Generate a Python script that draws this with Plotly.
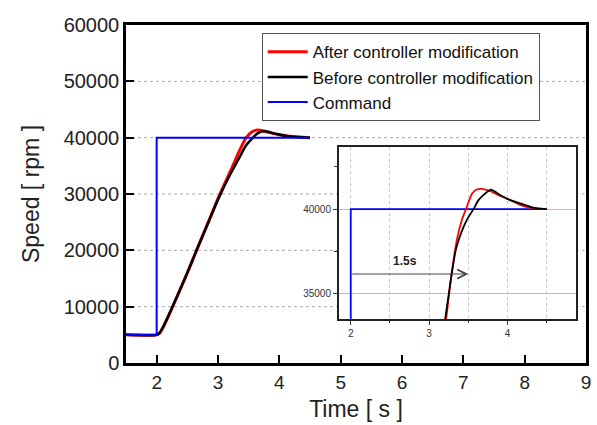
import plotly.graph_objects as go

# ---------------- data ----------------
# main plot
cmd_t = [1.5, 2.0, 2.0, 4.5]
cmd_v = [5000, 5000, 40000, 40000]

after_t = [1.5, 2.0, 2.05, 2.1, 2.2, 2.3, 2.5, 2.65, 2.86, 3.0, 3.2, 3.35, 3.46, 3.55, 3.65, 3.8, 4.0, 4.2, 4.5]
after_v = [5000, 5000, 5300, 6200, 8500, 11000, 16000, 20000, 25500, 29200, 34000, 37700, 40000, 41000, 41350, 41000, 40500, 40200, 40000]

before_t = [1.5, 2.0, 2.05, 2.1, 2.2, 2.3, 2.5, 2.65, 2.86, 3.0, 3.2, 3.35, 3.45, 3.57, 3.65, 3.76, 3.9, 4.1, 4.3, 4.5]
before_v = [5000, 5000, 5400, 6300, 8600, 11000, 16000, 20000, 25400, 29000, 33500, 36500, 38500, 40000, 40800, 41200, 40800, 40350, 40100, 40000]

# inset (zoomed view)
in_cmd_t = [2.0, 2.0, 4.5]
in_cmd_v = [33000, 40000, 40000]

in_after_t = [3.217, 3.29, 3.36, 3.42, 3.47, 3.545, 3.6, 3.67, 3.79, 3.9, 4.0, 4.16, 4.3, 4.5]
in_after_v = [33460, 36300, 38300, 39400, 40000, 40900, 41150, 41200, 41050, 40800, 40600, 40250, 40080, 40000]

in_before_t = [3.204, 3.27, 3.34, 3.41, 3.48, 3.566, 3.63, 3.71, 3.79, 3.9, 4.0, 4.16, 4.3, 4.375, 4.5]
in_before_v = [33460, 35600, 37570, 38600, 39350, 40000, 40530, 40900, 41150, 40850, 40600, 40340, 40120, 40040, 40000]

legend_names = ["After controller modification", "Before controller modification", "Command"]
main_xticks = [2, 3, 4, 5, 6, 7, 8, 9]
main_yticks = [0, 10000, 20000, 30000, 40000, 50000, 60000]
main_grid_y = [10000, 20000, 30000, 40000, 50000]
inset_xticks = [2, 3, 4]
inset_yticks = [35000, 40000]
arrow_label = "1.5s"
arrow_y = 36150
arrow_x0, arrow_x1 = 2.0, 3.5

FONT = "Liberation Sans, Arial, sans-serif"
RED, BLACK, BLUE = "#ff0000", "#000000", "#0000ff"

INSET_X = [0.463, 0.9776]
INSET_Y = [0.129, 0.640]
Y_MAIN = [0, 60000]

fig = go.Figure()

# main traces
fig.add_trace(go.Scatter(x=after_t, y=after_v, mode="lines", name=legend_names[0],
                         line=dict(color=RED, width=3, shape="spline", smoothing=0.6),
                         xaxis="x", yaxis="y"))
fig.add_trace(go.Scatter(x=before_t, y=before_v, mode="lines", name=legend_names[1],
                         line=dict(color=BLACK, width=2.5, shape="spline", smoothing=0.6),
                         xaxis="x", yaxis="y"))
fig.add_trace(go.Scatter(x=cmd_t, y=cmd_v, mode="lines", name=legend_names[2],
                         line=dict(color=BLUE, width=2),
                         xaxis="x", yaxis="y"))

# inset traces
fig.add_trace(go.Scatter(x=in_cmd_t, y=in_cmd_v, mode="lines", showlegend=False,
                         line=dict(color=BLUE, width=1.8), xaxis="x2", yaxis="y2"))
fig.add_trace(go.Scatter(x=in_after_t, y=in_after_v, mode="lines", showlegend=False,
                         line=dict(color=RED, width=1.8, shape="spline", smoothing=0.6),
                         xaxis="x2", yaxis="y2"))
fig.add_trace(go.Scatter(x=in_before_t, y=in_before_v, mode="lines", showlegend=False,
                         line=dict(color=BLACK, width=1.8, shape="spline", smoothing=0.6),
                         xaxis="x2", yaxis="y2"))

# main dotted grid lines, interrupted by the inset box
for gv in main_grid_y:
    frac = (gv - Y_MAIN[0]) / (Y_MAIN[1] - Y_MAIN[0])
    if INSET_Y[0] <= frac <= INSET_Y[1]:
        segs = [(0, INSET_X[0]), (INSET_X[1], 1)]
    else:
        segs = [(0, 1)]
    for a, b in segs:
        fig.add_shape(type="line", xref="paper", yref="y", x0=a, x1=b, y0=gv, y1=gv,
                      line=dict(color="#aaaaaa", width=1, dash="dot"), layer="below")

fig.add_annotation(x=arrow_x1, y=arrow_y, ax=arrow_x0, ay=arrow_y, xref="x2", yref="y2",
                   axref="x2", ayref="y2", showarrow=True, arrowhead=5, arrowsize=1.8,
                   arrowwidth=1, arrowcolor="#444444", text="")
fig.add_annotation(x=2.69, y=36934, xref="x2", yref="y2", text="<b>" + arrow_label + "</b>",
                   showarrow=False, font=dict(family=FONT, size=12, color="#222222"))

fig.update_layout(
    width=597, height=425,
    margin=dict(l=126, r=11, t=25, b=62),
    paper_bgcolor="white", plot_bgcolor="white",
    font=dict(family=FONT, color="#222222"),
    showlegend=True,
    legend=dict(x=0.295, y=0.9755, xanchor="left", yanchor="top",
                bgcolor="white", bordercolor="#555555", borderwidth=1,
                font=dict(family=FONT, size=17, color="#111111"),
                tracegroupgap=0, itemwidth=40),
    xaxis=dict(range=[1.5, 9], tickvals=main_xticks, ticks="inside", ticklen=8, tickwidth=2,
               tickcolor="black", showline=True, linecolor="black", linewidth=2.5, mirror=True,
               showgrid=False, zeroline=False, tickformat="d", automargin=False,
               tickfont=dict(family=FONT, size=19, color="#222222"),
               title=dict(text="Time [ s ]", font=dict(family=FONT, size=23, color="#222222"), standoff=10)),
    yaxis=dict(range=Y_MAIN, tickvals=main_yticks, ticks="inside", ticklen=8, tickwidth=2,
               tickcolor="black", showline=True, linecolor="black", linewidth=2.5, mirror=True,
               showgrid=False, zeroline=False, tickformat="d", automargin=False,
               tickfont=dict(family=FONT, size=20, color="#222222"),
               title=dict(text="Speed [ rpm ]", font=dict(family=FONT, size=23, color="#222222"), standoff=18)),
    xaxis2=dict(domain=INSET_X, anchor="y2", range=[1.85, 4.87], tickvals=inset_xticks,
                ticks="outside", ticklen=4, tickwidth=1, tickcolor="#333333",
                showline=True, linecolor="#222222", linewidth=2, mirror=True,
                showgrid=False, zeroline=False, tickformat="d", automargin=False,
                minor=dict(dtick=0.5, tick0=2, ticks="outside", ticklen=2, showgrid=True,
                           gridcolor="#c8c8c8", griddash="dot", gridwidth=1),
                tickfont=dict(family=FONT, size=10, color="#333333")),
    yaxis2=dict(domain=INSET_Y, anchor="x2", range=[33460, 43700], tickvals=inset_yticks,
                ticks="outside", ticklen=4, tickwidth=1, tickcolor="#333333",
                showline=True, linecolor="#222222", linewidth=2, mirror=True,
                showgrid=True, gridcolor="#bbbbbb", gridwidth=1, zeroline=False, tickformat="d",
                automargin=False,
                minor=dict(dtick=2500, tick0=0, ticks="outside", ticklen=3, showgrid=False),
                tickfont=dict(family=FONT, size=10, color="#333333")),
)

fig.write_html("out.html")
